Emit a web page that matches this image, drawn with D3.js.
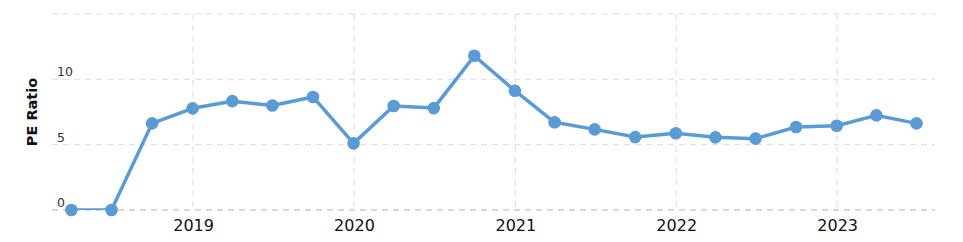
<!DOCTYPE html>
<html>
<head>
<meta charset="utf-8">
<script src="https://cdn.jsdelivr.net/npm/d3@7"></script>
<style>
  body { margin: 0; background: #fff; }
  svg { display: block; font-family: "DejaVu Sans", Verdana, sans-serif; }
</style>
</head>
<body>
<svg id="chart" width="963" height="242"></svg>
<script>
// quarter end dates and PE ratio
var dates = ["2018-03-31", "2018-06-30", "2018-09-30", "2018-12-31",
  "2019-03-31", "2019-06-30", "2019-09-30", "2019-12-31",
  "2020-03-31", "2020-06-30", "2020-09-30", "2020-12-31",
  "2021-03-31", "2021-06-30", "2021-09-30", "2021-12-31",
  "2022-03-31", "2022-06-30", "2022-09-30", "2022-12-31",
  "2023-03-31", "2023-06-30"];
var peRatio = [0, 0, 6.63, 7.78,
  8.33, 8.0, 8.65, 5.1,
  7.96, 7.8, 11.8, 9.13,
  6.71, 6.17, 5.58, 5.87,
  5.56, 5.46, 6.35, 6.45,
  7.24, 6.63];
var yTicks = [0, 5, 10, 15];
var yTickLabels = ["0", "5", "10", ""];
var yearTicks = ["2019", "2020", "2021", "2022", "2023"];

var parse = d3.timeParse("%Y-%m-%d");
var data = dates.map(function(d, i) { return { date: parse(d), value: peRatio[i] }; });

var svg = d3.select("#chart"),
    margin = {top: 14, right: 28, bottom: 32, left: 52},
    width = +svg.attr("width") - margin.left - margin.right,
    height = +svg.attr("height") - margin.top - margin.bottom;

var x = d3.scaleTime()
    .domain([parse("2018-02-15"), parse("2023-08-11")])
    .range([0, width]);
var y = d3.scaleLinear().domain([0, 15]).range([height, 0]);

var g = svg.append("g")
    .attr("transform", "translate(" + margin.left + "," + margin.top + ")");

// clip so the line sitting on zero is cut in half like the original
svg.append("defs").append("clipPath").attr("id", "plot-clip")
  .append("rect").attr("x", -10).attr("y", -10).attr("width", width + 20).attr("height", height + 10);

var yearDates = yearTicks.map(function(t) { return parse(t + "-01-01"); });

// vertical grid
g.append("g").selectAll("line")
  .data(yearDates)
  .enter().append("line")
    .attr("x1", function(d) { return x(d); })
    .attr("x2", function(d) { return x(d); })
    .attr("y1", 0)
    .attr("y2", height)
    .attr("stroke", "#dcdcdc")
    .attr("stroke-dasharray", "6,5");

// horizontal grid
g.append("g").selectAll("line")
  .data(yTicks)
  .enter().append("line")
    .attr("x1", 0)
    .attr("x2", width)
    .attr("y1", function(d) { return y(d); })
    .attr("y2", function(d) { return y(d); })
    .attr("stroke", function(d) { return d === 0 ? "#b0b0b0" : "#dcdcdc"; })
    .attr("stroke-dasharray", "6,5");

// y tick labels sit just above their gridline
g.append("g").selectAll("text")
  .data(yTicks)
  .enter().append("text")
    .attr("x", 5)
    .attr("y", function(d) { return y(d) - 3; })
    .attr("font-size", "12.5px")
    .attr("fill", "#333")
    .text(function(d, i) { return yTickLabels[i]; });

// x axis labels
var xAxis = g.append("g")
    .attr("transform", "translate(0," + height + ")")
    .call(d3.axisBottom(x).tickValues(yearDates).tickFormat(d3.timeFormat("%Y")).tickSize(0).tickPadding(10));
xAxis.select(".domain").remove();
xAxis.selectAll("text")
    .attr("font-size", "16px")
    .attr("font-family", "DejaVu Sans, Verdana, sans-serif")
    .attr("fill", "#111");

// y axis title
svg.append("text")
    .attr("transform", "translate(37," + (margin.top + height / 2) + ") rotate(-90)")
    .attr("text-anchor", "middle")
    .attr("font-size", "14.5px")
    .attr("font-weight", "bold")
    .attr("fill", "#111")
    .text("PE Ratio");

var line = d3.line()
    .x(function(d) { return x(d.date); })
    .y(function(d) { return y(d.value); });

g.append("path")
    .datum(data)
    .attr("clip-path", "url(#plot-clip)")
    .attr("fill", "none")
    .attr("stroke", "#5b9bd5")
    .attr("stroke-width", 3.5)
    .attr("stroke-linejoin", "round")
    .attr("d", line);

g.selectAll(".dot")
  .data(data)
  .enter().append("circle")
    .attr("class", "dot")
    .attr("cx", function(d) { return x(d.date); })
    .attr("cy", function(d) { return y(d.value); })
    .attr("r", 6.3)
    .attr("fill", "#5b9bd5");
</script>
</body>
</html>
